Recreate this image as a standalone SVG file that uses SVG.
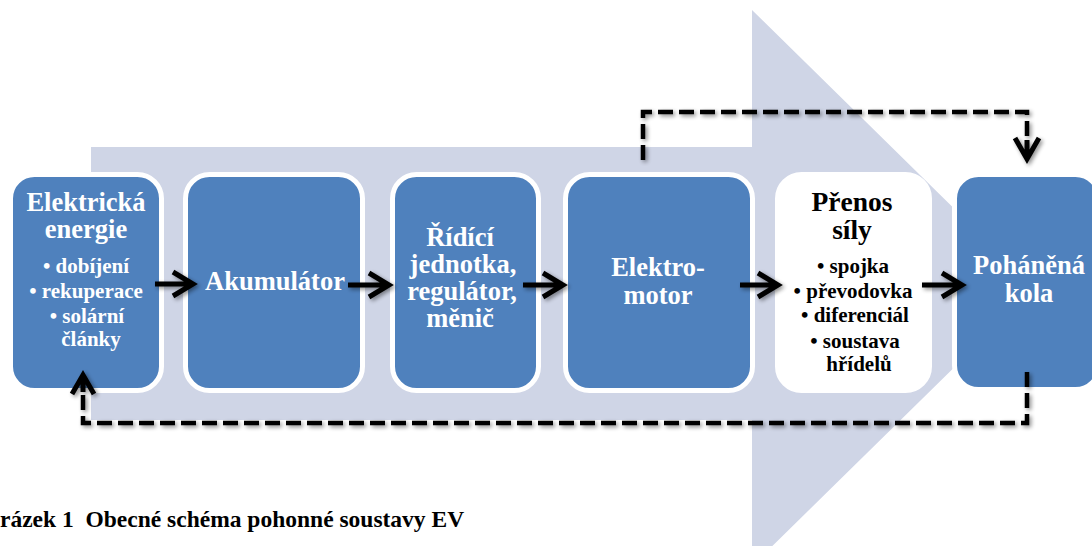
<svg xmlns="http://www.w3.org/2000/svg" width="1092" height="546" viewBox="0 0 1092 546">
  <style>
    .node { fill: #4F81BD; stroke: #FFFFFF; stroke-width: 5; }
    .node-light { fill: #FFFFFF; stroke: #FFFFFF; stroke-width: 5; }
    .title { font-family: "Liberation Serif", "Times New Roman", serif; font-weight: bold; font-size: 26.5px; fill: #FFFFFF; text-anchor: middle; }
    .item { font-family: "Liberation Serif", "Times New Roman", serif; font-weight: bold; font-size: 21px; fill: #FFFFFF; text-anchor: middle; }
    .dark { fill: #000000; }
    .flow { fill: none; stroke: #000000; stroke-width: 5; stroke-linejoin: miter; }
    .dash { fill: none; stroke: #000000; stroke-width: 4.5; stroke-dasharray: 15 6; }
    .caption { font-family: "Liberation Serif", "Times New Roman", serif; font-weight: bold; font-size: 23.5px; fill: #000000; }
  </style>
  <defs>
    <filter id="shadow" x="-20%" y="-20%" width="140%" height="140%">
      <feGaussianBlur in="SourceAlpha" stdDeviation="2"/>
      <feOffset dx="2" dy="2"/>
      <feComponentTransfer><feFuncA type="linear" slope="0.45"/></feComponentTransfer>
      <feMerge><feMergeNode/><feMergeNode in="SourceGraphic"/></feMerge>
    </filter>
  </defs>

  <!-- background process arrow -->
  <polygon id="process-arrow" points="91,147 752,147 752,10 1035,288 752,566 752,420 91,420" fill="#CFD5E6"/>

  <g id="elektricka-energie">
    <rect class="node" x="10.5" y="174.5" width="151" height="216" rx="24"/>
    <text class="title" x="86" y="211">Elektrická</text>
    <text class="title" x="86" y="238">energie</text>
    <text class="item" x="86" y="273">• dobíjení</text>
    <text class="item" x="86" y="298">• rekuperace</text>
    <text class="item" x="87" y="323">• solární</text>
    <text class="item" x="91" y="346">články</text>
  </g>

  <g id="akumulator">
    <rect class="node" x="185.5" y="174.5" width="177" height="216" rx="24"/>
    <text class="title" x="275" y="290">Akumulátor</text>
  </g>

  <g id="ridici-jednotka">
    <rect class="node" x="392.5" y="174.5" width="146" height="216" rx="24"/>
    <text class="title" x="460" y="246">Řídící</text>
    <text class="title" x="463" y="273">jednotka,</text>
    <text class="title" x="462" y="300">regulátor,</text>
    <text class="title" x="460" y="327">měnič</text>
  </g>

  <g id="elektromotor">
    <rect class="node" x="565.5" y="174.5" width="187" height="216" rx="24"/>
    <text class="title" x="658" y="276">Elektro-</text>
    <text class="title" x="658" y="304">motor</text>
  </g>

  <g id="prenos-sily">
    <rect class="node-light" x="777.5" y="174.5" width="152" height="216" rx="24"/>
    <text class="title dark" x="852" y="211" style="font-size:27.5px">Přenos</text>
    <text class="title dark" x="852" y="239" style="font-size:27.5px">síly</text>
    <text class="item dark" x="853" y="273">• spojka</text>
    <text class="item dark" x="853" y="298">• převodovka</text>
    <text class="item dark" x="855" y="322">• diferenciál</text>
    <text class="item dark" x="855" y="348">• soustava</text>
    <text class="item dark" x="859" y="371">hřídelů</text>
  </g>

  <g id="pohanena-kola">
    <rect class="node" x="954.5" y="174.5" width="145" height="215" rx="24"/>
    <text class="title" x="1029" y="274">Poháněná</text>
    <text class="title" x="1029" y="302">kola</text>
  </g>

  <g id="connectors" filter="url(#shadow)">
    <!-- main energy flow -->
    <path class="flow" d="M155,284 H191 M173,272 L193,284 L173,296"/>
    <path class="flow" d="M348,285 H387 M369,273 L389,285 L369,297"/>
    <path class="flow" d="M523,285 H561 M543,273 L563,285 L543,297"/>
    <path class="flow" d="M740,285 H776 M758,273 L778,285 L758,297"/>
    <path class="flow" d="M922,285 H960 M942,273 L962,285 L942,297"/>
    <!-- feedback paths -->
    <path class="dash" d="M643,160 V112 H1027 V140"/>
    <path class="flow" d="M1027,140 V156 M1015,138 L1027,159 L1039,138"/>
    <path class="dash" d="M1027,372 V423 H83 V392"/>
    <path class="flow" d="M83,392 V378 M72,394 L83,375 L94,394"/>
  </g>

  <text class="caption" x="0" y="527" xml:space="preserve">rázek 1  Obecné schéma pohonné soustavy EV</text>
</svg>
